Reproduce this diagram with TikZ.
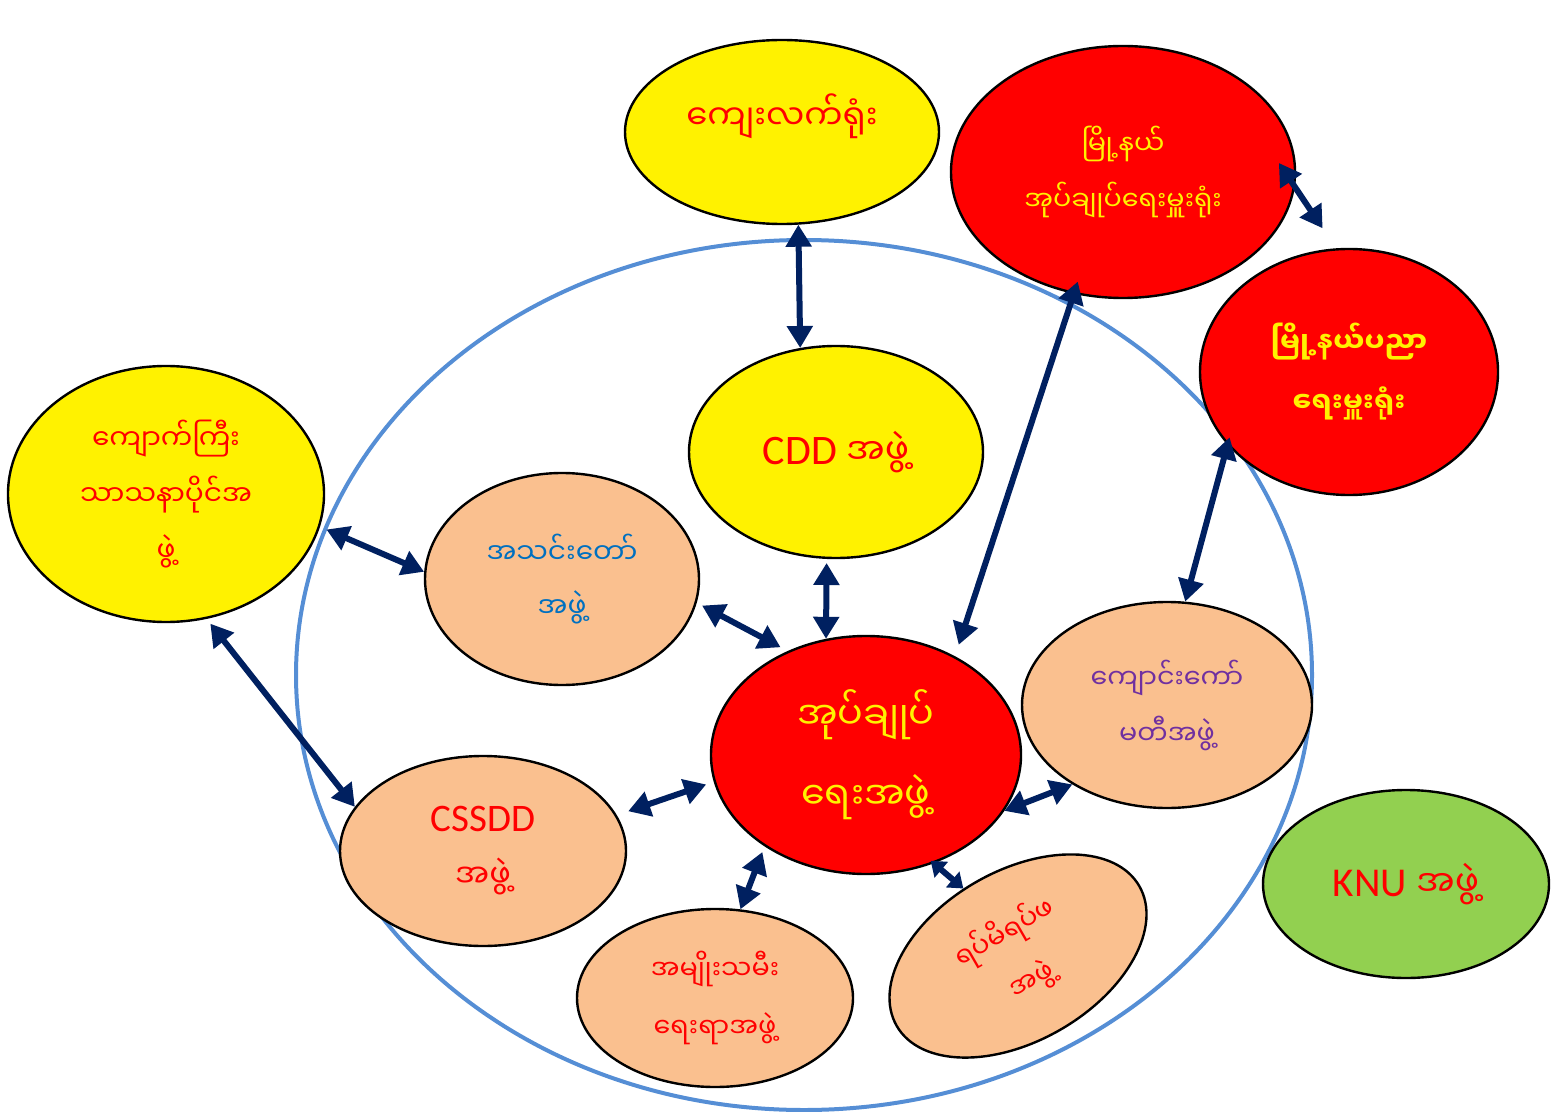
\documentclass[tikz,border=0pt]{standalone}
\usepackage{fontspec}
\setmainfont{Carlito}
\newfontfamily\mm[Script=Myanmar]{Noto Sans Myanmar UI}
\usepackage{tikz}
\usetikzlibrary{arrows.meta,shapes.geometric}
\definecolor{ringblue}{RGB}{85,142,213}
\definecolor{linknavy}{RGB}{0,32,96}
\definecolor{peach}{RGB}{250,192,143}
\definecolor{leafgreen}{RGB}{146,208,80}
\definecolor{textblue}{RGB}{0,112,192}
\definecolor{textpurple}{RGB}{112,48,160}
\newcommand{\mmsize}[2]{\fontsize{#1}{#2}\selectfont\mm}
\newcommand{\lat}[2]{{\normalfont\fontsize{#1}{#1}\selectfont #2}}
\tikzset{
  org/.style  = {ellipse, draw=black, line width=1.2pt, inner sep=0pt, align=center},
  yorg/.style = {org, fill=yellow, text=red},
  rorg/.style = {org, fill=red, text=yellow},
  porg/.style = {org, fill=peach},
  gorg/.style = {org, fill=leafgreen, text=red},
  link/.style = {{Triangle[length=11pt,width=12.5pt]}-{Triangle[length=11pt,width=12.5pt]}, line width=3pt, draw=linknavy},
  shortlink/.style = {{Triangle[length=7pt,width=10pt]}-{Triangle[length=7pt,width=10pt]}, line width=3pt, draw=linknavy},
}
\begin{document}
\begin{tikzpicture}[x=0.5pt, y=-0.5pt]
  \useasboundingbox (0,0) rectangle (1551,1112);
  \draw[ringblue, line width=2pt] (804,675) ellipse [x radius=508, y radius=435];

  \node[yorg, minimum width=157pt, minimum height=92pt, font=\mmsize{17}{30}] (village) at (782,132) {\raisebox{8pt}[\height][\depth]{ကျေးလက်ရုံး}};
  \node[rorg, minimum width=172pt, minimum height=126pt, font=\mmsize{13.5}{28}] (twpadmin) at (1123,172) {မြို့နယ်\\အုပ်ချုပ်ရေးမှူးရုံး};
  \node[rorg, minimum width=149pt, minimum height=123pt, font=\mmsize{14}{30}\bfseries] (twpedu) at (1349,372) {မြို့နယ်ပညာ\\ရေးမှူးရုံး};
  \node[yorg, minimum width=158pt, minimum height=128pt, font=\mmsize{14}{28}] (abbot) at (166,494) {ကျောက်ကြီး\\သာသနာပိုင်အ\\ဖွဲ့};
  \node[porg, text=textblue, minimum width=137pt, minimum height=106pt, font=\mmsize{14}{27}] (church) at (562,579) {အသင်းတော်\\အဖွဲ့};
  \node[yorg, minimum width=147pt, minimum height=106pt, font=\mmsize{18}{30}] (cdd) at (836,452) {\lat{21}{CDD} အဖွဲ့};
  \node[rorg, minimum width=155pt, minimum height=119pt, font=\mmsize{19}{40}] (admin) at (866,755) {အုပ်ချုပ်\\ရေးအဖွဲ့};
  \node[porg, text=textpurple, minimum width=145pt, minimum height=103pt, font=\mmsize{13.5}{28}] (monastery) at (1167,705) {ကျောင်းကော်\\မတီအဖွဲ့};
  \node[porg, text=red, minimum width=143pt, minimum height=95pt, font=\mmsize{16}{28}] (cssdd) at (483,851) {\lat{19.5}{CSSDD}\\အဖွဲ့};
  \node[porg, text=red, minimum width=138pt, minimum height=89pt, font=\mmsize{13.5}{29}] (women) at (715,998) {အမျိုးသမီး\\ရေးရာအဖွဲ့};
  \node[porg, text=red, rotate=30, minimum width=140pt, minimum height=85pt, font=\mmsize{13.5}{27}] (elders) at (1018,956) {ရပ်မိရပ်ဖ\\အဖွဲ့};
  \node[gorg, minimum width=143pt, minimum height=94pt, font=\mmsize{18}{30}] (knu) at (1406,884) {\lat{20.5}{KNU} အဖွဲ့};

  \draw[link] (village.-80) -- (cdd.109);
  \draw[link, shorten <=-14.5pt, shorten >=12pt] (twpadmin.-5) -- (twpedu.96);
  \draw[link, shorten <=2pt] (cdd.-95) -- (admin.109);
  \draw[link, shorten <=6pt, shorten >=-6.5pt] (admin.48.5) -- (twpadmin.-112);
  \draw[link, shorten <=-4pt] (twpedu.-149) -- (monastery.80);
  \draw[link, shorten <=3.5pt] (abbot.-12) -- (church.177);
  \draw[link, shorten <=3pt, shorten >=4pt] (church.-10) -- (admin.127);
  \draw[link, shorten <=3pt] (abbot.-72.5) -- (cssdd.161);
  \draw[link, shorten <=6pt, shorten >=4pt] (cssdd.15) -- (admin.-170);
  \draw[link, shorten <=3pt] (admin.-138) -- (women.74);
  \draw[shortlink, shorten <=-2pt] (admin.-58) -- (elders.99);
  \draw[link] (admin.-22) -- (monastery.-140);
\end{tikzpicture}
\end{document}
